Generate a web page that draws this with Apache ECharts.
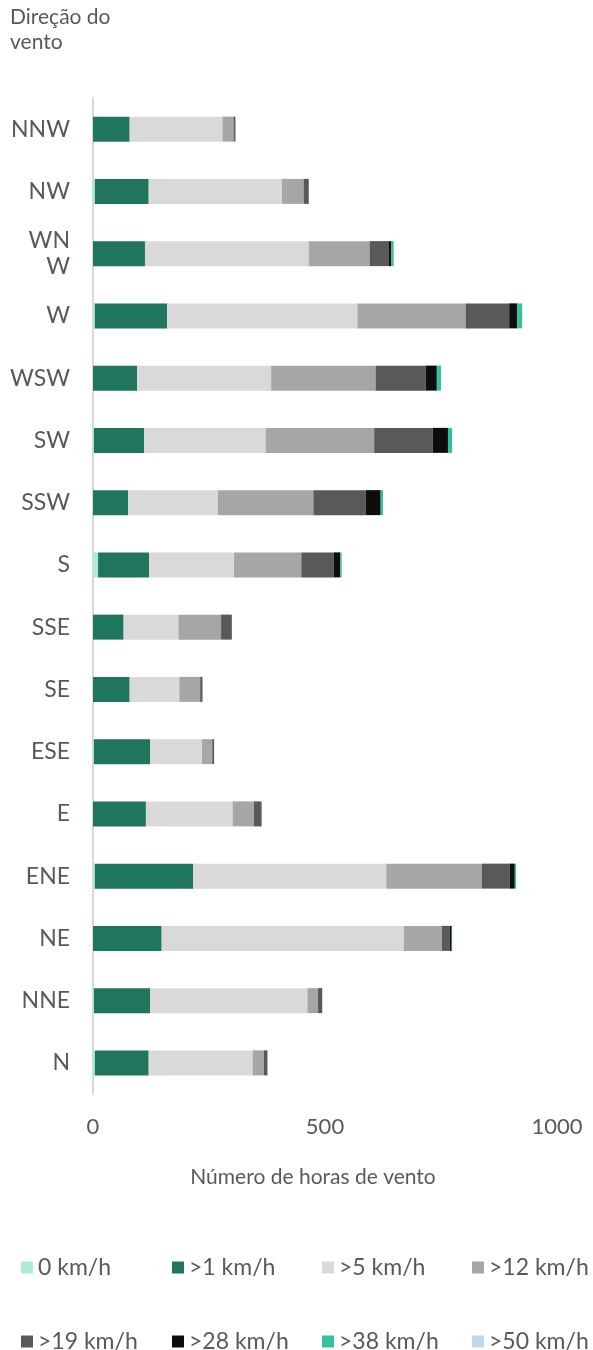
<!DOCTYPE html>
<html>
<head>
<meta charset="utf-8">
<script src="https://cdn.jsdelivr.net/npm/echarts@6/dist/echarts.min.js"></script>
<style>
  html, body { margin: 0; padding: 0; background: #fff; }
  #chart { width: 593px; height: 1350px; }
</style>
</head>
<body>
<div id="chart"></div>
<script>
// wind directions, bottom to top
let directions = ['N', 'NNE', 'NE', 'ENE', 'E', 'ESE', 'SE', 'SSE', 'S', 'SSW', 'SW', 'WSW', 'W', 'WNW', 'NW', 'NNW'];

// hours per speed class
let kmh0  = [4, 2, 0, 4, 0, 2, 0, 0, 11, 0, 2, 0, 4, 0, 4, 0];
let kmh1  = [116, 121, 148, 212, 114, 121, 79, 66, 110, 76, 108, 95, 156, 112, 116, 79];
let kmh5  = [224, 339, 522, 416, 187, 112, 107, 118, 183, 193, 262, 289, 410, 353, 287, 200];
let kmh12 = [24, 23, 82, 206, 46, 22, 45, 92, 145, 206, 234, 225, 233, 131, 47, 24];
let kmh19 = [8, 9, 17, 60, 14, 4, 5, 22, 70, 113, 126, 108, 94, 41, 11, 4];
let kmh28 = [0, 0, 4, 11, 2, 0, 0, 1, 14, 32, 33, 24, 17, 6, 0, 0];
let kmh38 = [0, 0, 1, 3, 0, 0, 0, 0, 3, 5, 9, 9, 11, 5, 0, 0];
let kmh50 = [0, 0, 0, 0, 0, 0, 0, 0, 0, 0, 0, 0, 0, 0, 0, 0];

let classNames = ['0 km/h', '>1 km/h', '>5 km/h', '>12 km/h', '>19 km/h', '>28 km/h', '>38 km/h', '>50 km/h'];
let classData = [kmh0, kmh1, kmh5, kmh12, kmh19, kmh28, kmh38, kmh50];
let classColors = ['#aeeadb', '#20755f', '#d9d9d9', '#a6a6a6', '#595959', '#0d0d0d', '#35c19f', '#bdd7ee'];

let xTicks = [0, 500, 1000];

let font = 'Lato';
let textColor = '#595959';

let series = classNames.map(function (name, i) {
  return {
    name: name,
    type: 'bar',
    stack: 'total',
    barWidth: 25,
    itemStyle: {color: classColors[i]},
    data: classData[i]
  };
});

// one legend per entry so the columns line up like the original
let legendLefts = [16, 167, 317, 467];
let legendTops = [1251, 1325];

let legends = classNames.map(function (name, i) {
  return {
    data: [name],
    left: legendLefts[i % 4],
    top: legendTops[Math.floor(i / 4)],
    icon: 'rect',
    itemWidth: 12,
    itemHeight: 12,
    itemGap: 0,
    itemStyle: {borderWidth: 0},
    textStyle: {
      fontFamily: font,
      fontSize: 23,
      color: textColor
    }
  };
});

let option = {
  animation: false,
  color: classColors,
  title: {
    text: 'Direção do\nvento',
    left: 5,
    top: 0,
    textStyle: {
      fontFamily: font,
      fontSize: 21,
      fontWeight: 'normal',
      color: textColor,
      lineHeight: 25
    }
  },
  legend: legends,
  grid: {
    left: 93,
    right: 36,
    top: 98,
    bottom: 256,
    containLabel: false
  },
  xAxis: {
    type: 'value',
    min: 0,
    max: 1000,
    interval: 500,
    name: 'Número de horas de vento',
    nameLocation: 'middle',
    nameGap: 73,
    nameTextStyle: {
      fontFamily: font,
      fontSize: 21,
      color: textColor,
      padding: [0, 24, 0, 0]
    },
    axisLine: {show: false},
    axisTick: {show: false},
    splitLine: {show: false},
    axisLabel: {
      fontFamily: font,
      fontSize: 22,
      color: textColor,
      margin: 22,
      formatter: function (v) {
        return xTicks.indexOf(v) >= 0 ? String(v) : '';
      }
    }
  },
  yAxis: {
    type: 'category',
    data: directions,
    axisLine: {show: true, lineStyle: {color: '#d9d9d9', width: 2}},
    axisTick: {show: false},
    splitLine: {show: false},
    axisLabel: {
      fontFamily: font,
      fontSize: 23,
      color: textColor,
      margin: 23,
      lineHeight: 26,
      // the original wraps this one label
      formatter: function (v) {
        return v === 'WNW' ? 'WN\nW' : v;
      }
    }
  },
  series: series
};

let myChart = echarts.init(document.getElementById('chart'));
myChart.setOption(option);
</script>
</body>
</html>
